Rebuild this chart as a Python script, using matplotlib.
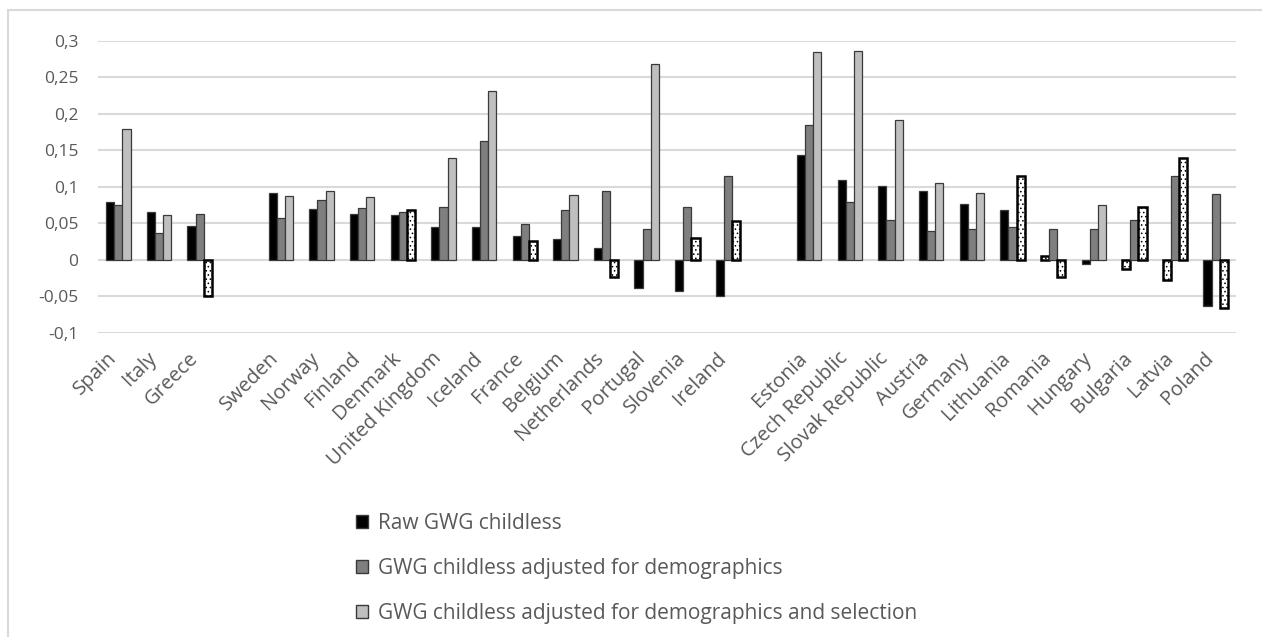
import numpy as np
import matplotlib
matplotlib.use("Agg")
import matplotlib.pyplot as plt
import matplotlib.transforms as mtransforms
from matplotlib.patches import Patch, Rectangle

plt.rcParams['font.family'] = ['Open Sans', 'DejaVu Sans']
plt.rcParams['hatch.color'] = '#cfcfcf'
plt.rcParams['hatch.linewidth'] = 0.6

# country groups (a blank slot is left between groups)
group1 = ['Spain', 'Italy', 'Greece']
group2 = ['Sweden', 'Norway', 'Finland', 'Denmark', 'United Kingdom', 'Iceland',
          'France', 'Belgium', 'Netherlands', 'Portugal', 'Slovenia', 'Ireland']
group3 = ['Estonia', 'Czech Republic', 'Slovak Republic', 'Austria', 'Germany',
          'Lithuania', 'Romania', 'Hungary', 'Bulgaria', 'Latvia', 'Poland']

raw = [0.079, 0.066, 0.047,
       0.092, 0.070, 0.063, 0.061, 0.045, 0.045, 0.033, 0.028, 0.017, -0.038, -0.043, -0.049,
       0.143, 0.110, 0.101, 0.094, 0.077, 0.068, 0.005, -0.006, -0.012, -0.028, -0.063]
demo = [0.075, 0.037, 0.063,
        0.057, 0.082, 0.071, 0.066, 0.073, 0.163, 0.049, 0.068, 0.094, 0.042, 0.073, 0.115,
        0.184, 0.079, 0.054, 0.040, 0.043, 0.045, 0.043, 0.042, 0.054, 0.115, 0.090]
demo_sel = [0.179, 0.061, -0.049,
            0.087, 0.094, 0.086, 0.069, 0.140, 0.231, 0.026, 0.089, -0.024, 0.268, 0.030, 0.053,
            0.284, 0.286, 0.192, 0.105, 0.091, 0.115, -0.024, 0.075, 0.072, 0.140, -0.066]

# bars drawn with the dotted (white) style
dotted_raw = ['Romania', 'Bulgaria', 'Latvia']
dotted_sel = ['Greece', 'Denmark', 'France', 'Netherlands', 'Slovenia', 'Ireland',
              'Lithuania', 'Romania', 'Bulgaria', 'Latvia', 'Poland']

labels = ['Raw GWG childless',
          'GWG childless adjusted for demographics',
          'GWG childless adjusted for demographics and selection']

countries = group1 + group2 + group3
pos = np.concatenate([np.arange(len(group1)),
                      np.arange(len(group2)) + len(group1) + 1,
                      np.arange(len(group3)) + len(group1) + len(group2) + 2])

fig = plt.figure(figsize=(12.62, 6.37), dpi=100)
fig.patches.append(Rectangle((8 / 1262, -0.1), 1.2, 1 - 10 / 637 + 0.1, transform=fig.transFigure,
                             fill=False, edgecolor='#d9d9d9', linewidth=1.5))
ax = fig.add_axes([98 / 1262, 1 - 333 / 637, (1236 - 98) / 1262, (333 - 40.7) / 637])

w = 0.2
series = [(raw, '#000000', dotted_raw), (demo, '#7f7f7f', []), (demo_sel, '#bfbfbf', dotted_sel)]
for i, (vals, col, dotted) in enumerate(series):
    for c, p, v in zip(countries, pos, vals):
        if c in dotted:
            ax.bar(p + (i - 1) * w, v, w, color='white', edgecolor='black', linewidth=1.8,
                   hatch='....', zorder=3)
        else:
            ax.bar(p + (i - 1) * w, v, w, color=col, edgecolor='#3a3a3a', linewidth=0.9, zorder=3)

ax.set_xlim(-0.5, len(group1) + len(group2) + len(group3) + 2 - 0.5)
ax.set_ylim(-0.1, 0.3)
ticks = [-0.1, -0.05, 0, 0.05, 0.1, 0.15, 0.2, 0.25, 0.3]
ax.set_yticks(ticks)
ax.set_yticklabels([('%g' % t).replace('.', ',') for t in ticks])
ax.yaxis.grid(True, color='#d9d9d9', linewidth=1.5, zorder=0)
ax.set_axisbelow(True)
for s in ax.spines.values():
    s.set_visible(False)
ax.tick_params(axis='y', length=0, pad=14, labelsize=12.5, labelcolor='#595959')
ax.tick_params(axis='x', length=0, pad=11, labelsize=14.5, labelcolor='#595959')
ax.set_xticks(pos)
ax.set_xticklabels(countries, rotation=45, ha='right', rotation_mode='anchor')
shift = mtransforms.ScaledTranslation(-12 / 100, 0, fig.dpi_scale_trans)
for t in ax.get_xticklabels():
    t.set_transform(t.get_transform() + shift)

handles = [Patch(facecolor='#000000', edgecolor='#3a3a3a'),
           Patch(facecolor='#7f7f7f', edgecolor='#3a3a3a'),
           Patch(facecolor='#bfbfbf', edgecolor='#3a3a3a')]
fig.legend(handles, labels, loc='upper left', bbox_to_anchor=(337 / 1262, 1 - 494 / 637),
           frameon=False, fontsize=15, labelcolor='#595959', handlelength=0.6,
           handleheight=0.6, handletextpad=0.45, labelspacing=1.15)

fig.savefig('out.png', dpi=100)
